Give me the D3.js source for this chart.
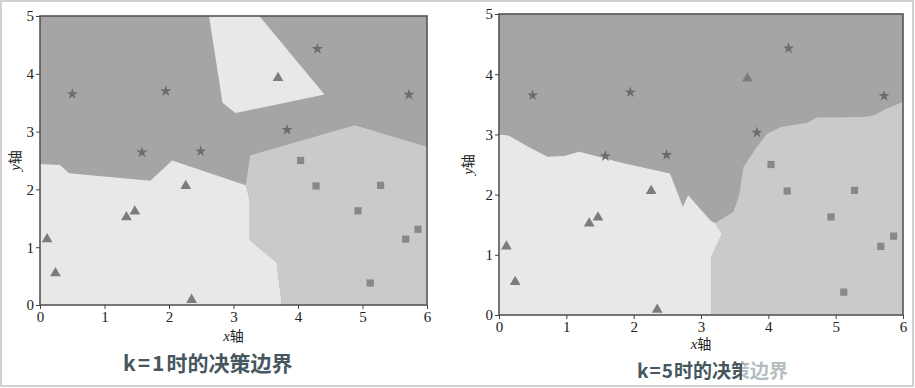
<!DOCTYPE html>
<meta charset="utf-8">
<style>
body { margin: 0; background: #fff; }
.tick text { font-family: "Liberation Serif", serif; font-size: 15px; fill: #222; }
.tick line { stroke: #444; }
.domain { display: none; }
</style>
<svg width="915" height="388"></svg>
<script src="https://cdn.jsdelivr.net/npm/d3@7"></script>
<script>

// sample points (x, y)
var stars = [[0.50, 3.65], [1.95, 3.70], [1.58, 2.64], [2.49, 2.66], [4.30, 4.43], [3.83, 3.03], [5.72, 3.64]];
var triangles = [[3.69, 3.93], [2.26, 2.06], [0.11, 1.14], [0.24, 0.55], [1.34, 1.52], [1.47, 1.62], [2.35, 0.09]];
var squares = [[4.04, 2.50], [4.28, 2.06], [5.28, 2.07], [4.93, 1.63], [5.67, 1.14], [5.86, 1.31], [5.12, 0.38]];

var xTicks = [0, 1, 2, 3, 4, 5, 6];
var yTicks = [0, 1, 2, 3, 4, 5];

// decision regions, k = 1
var k1Light = [[0, 0], [0, 2.44], [0.31, 2.42], [0.45, 2.28], [1.71, 2.15], [2.05, 2.50], [3.19, 2.07], [3.25, 1.82], [3.25, 1.13], [3.67, 0.73], [3.75, 0]];
var k1Medium = [[3.19, 2.07], [3.26, 2.59], [4.88, 3.11], [6, 2.74], [6, 0], [3.75, 0], [3.67, 0.73], [3.25, 1.13], [3.25, 1.82]];
var k1LightTop = [[2.62, 5], [3.40, 5], [4.41, 3.64], [3.03, 3.32], [2.83, 3.50]];

// decision regions, k = 5
var k5Light = [[0, 0], [0, 3.0], [0.14, 2.98], [0.44, 2.79], [0.72, 2.63], [0.97, 2.64], [1.19, 2.71], [1.85, 2.52], [2.54, 2.35], [2.73, 1.80], [2.81, 1.99], [3.14, 1.57], [3.21, 1.53], [3.31, 1.34], [3.19, 1.06], [3.15, 0.96], [3.15, 0]];
var k5Medium = [[3.15, 0], [3.15, 0.96], [3.19, 1.06], [3.31, 1.34], [3.21, 1.53], [3.48, 1.71], [3.57, 2.0], [3.63, 2.46], [3.83, 2.79], [3.98, 3.01], [4.18, 3.12], [4.38, 3.16], [4.57, 3.19], [4.72, 3.28], [5.42, 3.29], [5.57, 3.32], [5.76, 3.43], [6, 3.54], [6, 0]];

var svg = d3.select("svg");

// outer frame
svg.append("rect")
    .attr("x", 1).attr("y", 1)
    .attr("width", 912).attr("height", 385)
    .attr("fill", "none")
    .attr("stroke", "#d2d2d2")
    .attr("stroke-width", 2);

function panel(opts) {
  var x = d3.scaleLinear().domain([0, 6]).range(opts.xr);
  var y = d3.scaleLinear().domain([0, 5]).range(opts.yr);
  var g = svg.append("g");
  var line = d3.line().x(function(d) { return x(d[0]); }).y(function(d) { return y(d[1]); });

  g.append("rect")
      .attr("x", x(0)).attr("y", y(5))
      .attr("width", x(6) - x(0)).attr("height", y(0) - y(5))
      .attr("fill", "#a5a5a5");

  opts.regions.forEach(function(r) {
    g.append("path")
        .attr("d", line(r.pts) + "Z")
        .attr("fill", r.fill);
  });

  var markers = [
    {data: stars, type: d3.symbolStar, size: 40, fill: "#6c6c6c"},
    {data: triangles, type: d3.symbolTriangle, size: 50, fill: "#7c7c7c"},
    {data: squares, type: d3.symbolSquare, size: 52, fill: "#888"}
  ];
  markers.forEach(function(m) {
    g.selectAll(null)
        .data(m.data)
      .enter().append("path")
        .attr("transform", function(d) { return "translate(" + x(d[0]) + "," + y(d[1]) + ")"; })
        .attr("d", d3.symbol().type(m.type).size(m.size))
        .attr("fill", m.fill);
  });

  g.append("rect")
      .attr("x", x(0)).attr("y", y(5))
      .attr("width", x(6) - x(0)).attr("height", y(0) - y(5))
      .attr("fill", "none")
      .attr("stroke", "#555")
      .attr("stroke-width", 1.6);

  g.append("g")
      .attr("transform", "translate(0," + y(0) + ")")
      .call(d3.axisBottom(x).tickValues(xTicks).tickSize(4).tickPadding(2).tickFormat(d3.format("d")));
  g.append("g")
      .attr("transform", "translate(" + x(0) + ",0)")
      .call(d3.axisLeft(y).tickValues(yTicks).tickSize(4).tickPadding(2).tickFormat(d3.format("d")));

  var xl = g.append("text")
      .attr("x", (x(0) + x(6)) / 2)
      .attr("y", opts.xLabelY)
      .attr("text-anchor", "middle")
      .attr("font-size", 15)
      .attr("fill", "#222");
  xl.append("tspan").attr("font-family", "Liberation Serif").attr("font-style", "italic").text("x");
  xl.append("tspan").attr("font-family", "Noto Sans CJK SC").attr("font-size", 14).text("轴");

  var yl = g.append("text")
      .attr("transform", "translate(" + opts.yLabelX + "," + ((y(0) + y(5)) / 2) + ") rotate(-90)")
      .attr("text-anchor", "middle")
      .attr("font-size", 15)
      .attr("fill", "#222");
  yl.append("tspan").attr("font-family", "Liberation Serif").attr("font-style", "italic").text("y");
  yl.append("tspan").attr("font-family", "Noto Sans CJK SC").attr("font-size", 14).text("轴");

  var cap = svg.append("text")
      .attr("x", opts.capX)
      .attr("y", opts.capY)
      .attr("font-family", "Noto Sans CJK SC")
      .attr("font-weight", "bold")
      .attr("font-size", opts.capSize)
      .attr("fill", "#46575f");
  cap.append("tspan").attr("letter-spacing", opts.capSpacing).text(opts.caption.slice(0, 3));
  cap.append("tspan").text(opts.caption.slice(3));
}

panel({
  xr: [40, 427], yr: [305, 16],
  regions: [
    {pts: k1Light, fill: "#e8e8e8"},
    {pts: k1Medium, fill: "#cacaca"},
    {pts: k1LightTop, fill: "#e8e8e8"}
  ],
  xLabelY: 341, yLabelX: 20,
  caption: "k=1时的决策边界", capX: 123, capY: 371, capSize: 21, capSpacing: 2
});

panel({
  xr: [499, 903], yr: [315, 14],
  regions: [
    {pts: k5Light, fill: "#e8e8e8"},
    {pts: k5Medium, fill: "#cacaca"}
  ],
  xLabelY: 349, yLabelX: 473,
  caption: "k=5时的决策边界", capX: 637, capY: 378, capSize: 19, capSpacing: 1
});

// faded watermark over the right caption
svg.append("rect")
    .attr("x", 742).attr("y", 360)
    .attr("width", 166).attr("height", 24)
    .attr("fill", "#fff")
    .attr("opacity", 0.6);

</script>
